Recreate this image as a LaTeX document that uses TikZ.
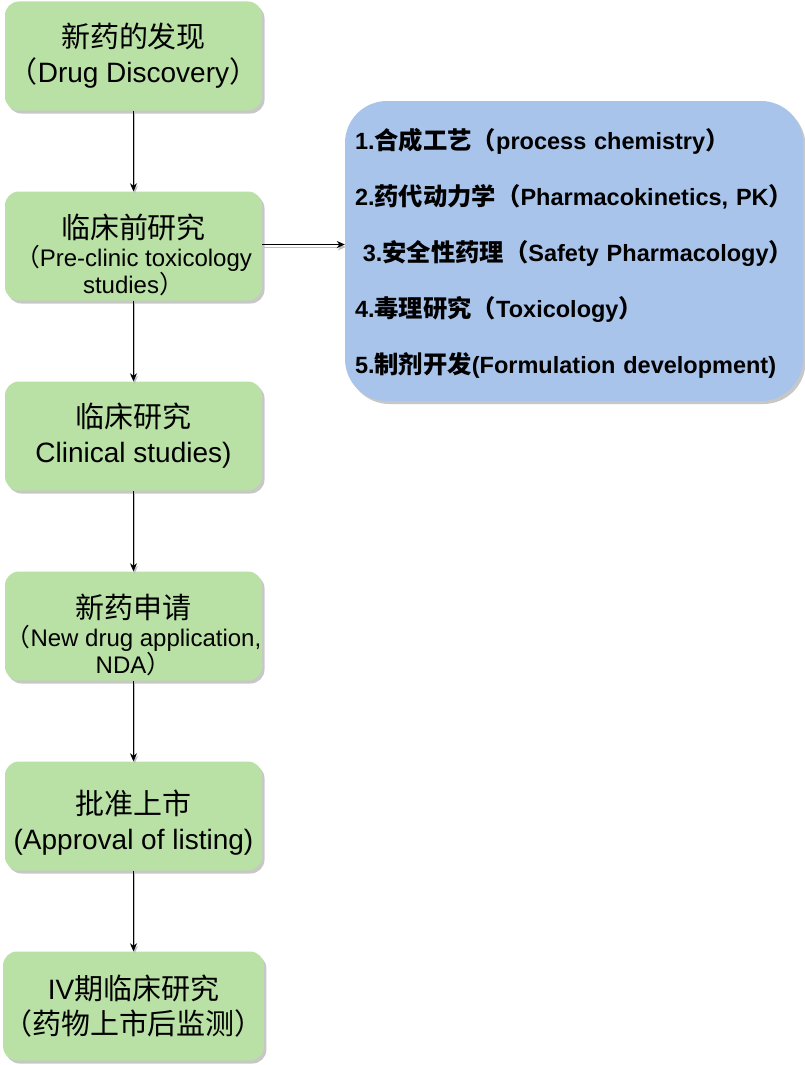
\documentclass[tikz,border=0pt]{standalone}
\usepackage{fontspec}
\setmainfont{Liberation Sans}
\newfontfamily\cjk[Scale=1.035]{Noto Sans CJK SC}
\usetikzlibrary{shadows,arrows.meta}
\newcommand{\zh}[1]{{\cjk #1}}
\newcommand{\sm}{\fontsize{24}{27.5}\selectfont}
\definecolor{gfill}{HTML}{B9E0A5}
\definecolor{bfill}{HTML}{A9C4EB}
\tikzset{
  gbox/.style={rectangle, rounded corners=14pt, fill=gfill, minimum width=257pt, minimum height=109pt,
    inner sep=0pt, align=center, font=\fontsize{28}{35}\selectfont,
    drop shadow={shadow xshift=2.5pt, shadow yshift=-3pt, fill=black, opacity=0.22}},
  gbox3/.style={gbox, font=\fontsize{28}{27.5}\selectfont},
  bbox/.style={rectangle, rounded corners=42pt, fill=bfill, minimum width=458pt, minimum height=300pt,
    text width=438pt, inner xsep=10pt, inner ysep=0pt, align=left,
    font=\bfseries\fontsize{23.5}{56}\selectfont,
    drop shadow={shadow xshift=2.5pt, shadow yshift=-3pt, fill=black, opacity=0.22}},
  arr/.style={draw=black, line width=0.9pt, -{Stealth[length=8pt,width=7pt,inset=2.5pt]},
    preaction={draw=black!25, line width=0.9pt, transform canvas={shift={(1pt,-2.5pt)}}}}
}
\begin{document}
\begin{tikzpicture}[x=1pt,y=-1pt]
\useasboundingbox (0,0) rectangle (805,1065);
\node[gbox] (b1) at (133.5,56) {\zh{新药的发现}\\\zh{（}Drug Discovery\zh{）}};
\node[gbox3] (b2) at (133.5,246) {\rule{0pt}{43pt}\zh{临床前研究}\\\sm\zh{（}Pre-clinic toxicology\\\sm studies\zh{）}};
\node[gbox] (b3) at (133.5,436) {\zh{临床研究}\\Clinical studies)};
\node[gbox3] (b4) at (133.5,626) {\rule{0pt}{43pt}\zh{新药申请}\\\sm\zh{（}New drug application,\\\sm NDA\zh{）}};
\node[gbox] (b5) at (133.5,816) {\rule{0pt}{37pt}\zh{批准上市}\\(Approval of listing)};
\node[gbox] (b6) at (133.5,1006) {IV\zh{期临床研究}\\\zh{（药物上市后监测）}};
\node[bbox] (bl) at (574,251) {\rule{0pt}{25pt}\mbox{1.\zh{合成工艺（}process chemistry\zh{）}}\\
\mbox{2.\zh{药代动力学（}Pharmacokinetics, PK\zh{）}}\\
\mbox{\ 3.\zh{安全性药理（}Safety Pharmacology\zh{）}}\\
\mbox{4.\zh{毒理研究（}Toxicology\zh{）}}\\
\mbox{5.\zh{制剂开发}(Formulation development)}};
\draw[arr] (b1) -- (b2);
\draw[arr] (b2) -- (b3);
\draw[arr] (b3) -- (b4);
\draw[arr] (b4) -- (b5);
\draw[arr] (b5) -- (b6);
\draw[arr] ([yshift=1.5pt]b2.east) -- ([yshift=1.5pt]b2.east -| bl.west);
\end{tikzpicture}
\end{document}
